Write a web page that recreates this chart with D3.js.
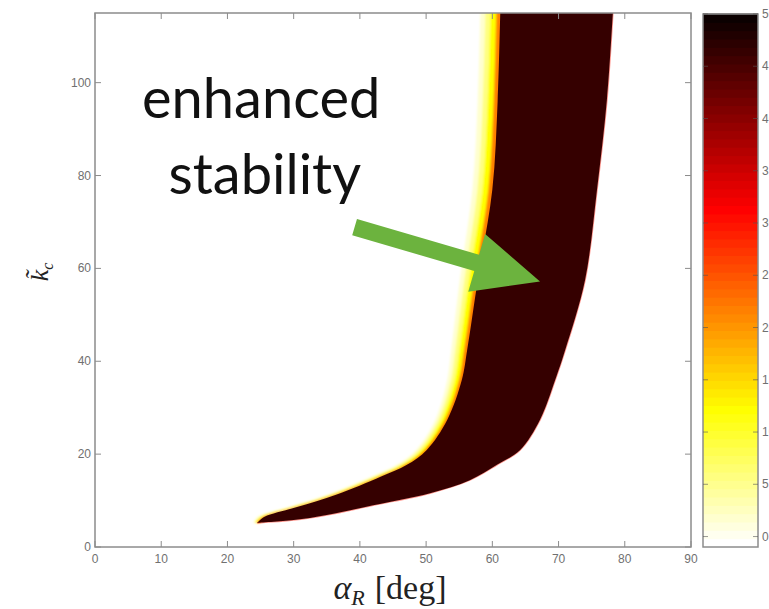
<!DOCTYPE html>
<html>
<head>
<meta charset="utf-8">
<script src="https://cdn.jsdelivr.net/npm/d3@7"></script>
<style>
  body { margin: 0; background: #fff; }
  svg text { font-family: "Liberation Sans", Arial, sans-serif; }
</style>
</head>
<body>
<svg id="chart" width="769" height="609"></svg>
<script>
// stable band
// upper/left edge, from the tip upward
const leftK     = [5.2, 6.5, 8.6, 11.3, 15.2, 17.7, 20.9, 27.4, 36, 42.4, 57.5, 77, 96, 115, 120];
const leftAlpha = [24.5, 25.6, 30.5, 36.5, 43.2, 47.1, 50.1, 53.2, 55.4, 56.2, 57.8, 60, 60.8, 61.2, 61.3];
// width (deg) of the yellow rim along the left edge
const rimWidth  = [0.6, 1.0, 1.2, 1.3, 1.4, 1.5, 1.6, 1.8, 2.2, 2.4, 2.7, 3, 3, 3, 3];
// lower/right edge, from the top downward
const rightK     = [120, 115, 96.3, 76.9, 57.5, 42.4, 36, 27.4, 20.9, 17.7, 14.4, 11.6, 9.0, 6.9, 5.8];
const rightAlpha = [78.4, 78.2, 77.3, 75.8, 74, 71, 69.5, 67.2, 64.2, 60.7, 56.6, 50.6, 42, 35, 30];

const bandValue = 46.5;
const rimValues = [2, 6, 12, 22];

const xTicks = [0, 10, 20, 30, 40, 50, 60, 70, 80, 90];
const yTicks = [0, 20, 40, 60, 80, 100];
const cTicks = [0, 5, 10, 15, 20, 25, 30, 35, 40, 45, 50];
const cDomain = [-1, 50];

// annotation, in data units (alpha, k)
const noteLines = [["enhanced", 7.1, 92.3], ["stability", 11.1, 76.0]];
const arrowFrom = [39.2, 68.9];
const arrowTo   = [67.2, 57.2];

const svg = d3.select('#chart');
const plot = { left: 95, right: 691, top: 13, bottom: 547 };
const cbar = { left: 703, right: 758, top: 14, bottom: 547 };

const x = d3.scaleLinear().domain([0, 90]).range([plot.left, plot.right]);
const y = d3.scaleLinear().domain([0, 115]).range([plot.bottom, plot.top]);
const yc = d3.scaleLinear().domain(cDomain).range([cbar.bottom, cbar.top]);

// matlab "hot", 64 levels, flipped so that low values are white
function hot(t) {
  const i = Math.min(63, Math.max(0, Math.floor(t * 64)));
  const s = i + 1;
  const r = Math.min(1, s / 24);
  const g = Math.min(1, Math.max(0, (s - 24) / 24));
  const b = Math.min(1, Math.max(0, (s - 48) / 16));
  return d3.rgb(r * 255, g * 255, b * 255).toString();
}
const color = v => hot(1 - (v - cDomain[0]) / (cDomain[1] - cDomain[0]));

const leftEdge = leftK.map((k, i) => ({ k, a: leftAlpha[i], w: rimWidth[i] }));
const rightEdge = rightK.map((k, i) => ({ k, a: rightAlpha[i] }));

const defs = svg.append('defs');
defs.append('clipPath').attr('id', 'plotClip').append('rect')
  .attr('x', plot.left).attr('y', plot.top)
  .attr('width', plot.right - plot.left).attr('height', plot.bottom - plot.top);
defs.append('filter').attr('id', 'soft')
  .attr('x', '-20%').attr('y', '-20%').attr('width', '140%').attr('height', '140%')
  .append('feGaussianBlur').attr('stdDeviation', 1.3);

const field = svg.append('g').attr('clip-path', 'url(#plotClip)');
const curve = d3.line().curve(d3.curveCatmullRom.alpha(0.5));

// rim on the left edge (white -> yellow -> orange)
const rimFrac = [1, 0.75, 0.5, 0.2];
const rim = field.append('g').attr('filter', 'url(#soft)');
rimValues.forEach((v, j) => {
  const outer = leftEdge.map(d => [x(d.a - d.w * rimFrac[j]), y(d.k)]);
  const inner = leftEdge.map(d => [x(d.a + 0.4), y(d.k)]).reverse();
  rim.append('path')
    .attr('fill', color(v))
    .attr('d', curve(outer) + 'L' + curve(inner).slice(1) + 'Z');
});

// the band itself: up the left edge, down the right edge
const bandPts = leftEdge.map(d => [x(d.a), y(d.k)])
  .concat(rightEdge.map(d => [x(d.a), y(d.k)]));
bandPts.push(bandPts[0]);

// thin fringe along the lower/right edge
field.append('path')
  .attr('fill', 'none')
  .attr('stroke', color(30))
  .attr('stroke-width', 1.6)
  .attr('opacity', 0.45)
  .attr('d', curve(rightEdge.map(d => [x(d.a), y(d.k)]).concat([[x(leftAlpha[0]), y(leftK[0])]])));

field.append('path')
  .attr('fill', color(bandValue))
  .attr('d', curve(bandPts) + 'Z');

// frame and ticks
const frameColor = '#8c8c8c';
const tickLen = 6;
svg.append('rect')
  .attr('x', plot.left).attr('y', plot.top)
  .attr('width', plot.right - plot.left).attr('height', plot.bottom - plot.top)
  .attr('fill', 'none').attr('stroke', frameColor).attr('stroke-width', 1.5);

const ticks = svg.append('g').attr('stroke', frameColor).attr('stroke-width', 1);
xTicks.forEach(t => {
  ticks.append('line').attr('x1', x(t)).attr('x2', x(t)).attr('y1', plot.bottom).attr('y2', plot.bottom - tickLen);
  ticks.append('line').attr('x1', x(t)).attr('x2', x(t)).attr('y1', plot.top).attr('y2', plot.top + tickLen);
});
yTicks.forEach(t => {
  ticks.append('line').attr('x1', plot.left).attr('x2', plot.left + tickLen).attr('y1', y(t)).attr('y2', y(t));
  ticks.append('line').attr('x1', plot.right).attr('x2', plot.right - tickLen).attr('y1', y(t)).attr('y2', y(t));
});

const labels = svg.append('g').attr('fill', '#707070').attr('font-size', 12);
labels.selectAll('.xl').data(xTicks).enter().append('text')
  .attr('x', d => x(d)).attr('y', plot.bottom + 16)
  .attr('text-anchor', 'middle').text(d => d);
labels.selectAll('.yl').data(yTicks).enter().append('text')
  .attr('x', plot.left - 4).attr('y', d => y(d) + 4)
  .attr('text-anchor', 'end').text(d => d);

// axis titles
const xt = svg.append('text')
  .attr('x', 390).attr('y', 599)
  .attr('text-anchor', 'middle')
  .style('font-family', '"Liberation Serif", "Times New Roman", serif')
  .attr('font-size', 34).attr('fill', '#222');
xt.append('tspan').attr('font-style', 'italic').text('α');
xt.append('tspan').attr('font-style', 'italic').attr('font-size', 22).attr('dy', 6).text('R');
xt.append('tspan').attr('dy', -6).attr('dx', 10).text('[deg]');

const yt = svg.append('text')
  .attr('transform', 'translate(48,272) rotate(-90)')
  .attr('text-anchor', 'middle')
  .style('font-family', '"Liberation Serif", "Times New Roman", serif')
  .attr('font-size', 26).attr('fill', '#222');
yt.append('tspan').attr('font-style', 'italic').text('k\u0303');
yt.append('tspan').attr('font-style', 'italic').attr('font-size', 16).attr('dy', 5).text('c');

// colorbar
const nBands = 64;
const step = (cDomain[1] - cDomain[0]) / nBands;
const levels = d3.range(nBands).map(i => cDomain[0] + i * step);
svg.append('g').selectAll('rect').data(levels).enter().append('rect')
  .attr('x', cbar.left).attr('width', cbar.right - cbar.left)
  .attr('y', d => yc(d + step) - 0.5)
  .attr('height', d => yc(d) - yc(d + step) + 1)
  .attr('fill', d => color(d + step / 2));
svg.append('rect')
  .attr('x', cbar.left).attr('y', cbar.top)
  .attr('width', cbar.right - cbar.left).attr('height', cbar.bottom - cbar.top)
  .attr('fill', 'none').attr('stroke', frameColor).attr('stroke-width', 1.5);
const cticks = svg.append('g').attr('stroke', '#555').attr('stroke-width', 1).attr('opacity', 0.6);
cTicks.forEach(t => {
  cticks.append('line').attr('x1', cbar.left).attr('x2', cbar.left + 5).attr('y1', yc(t)).attr('y2', yc(t));
  cticks.append('line').attr('x1', cbar.right).attr('x2', cbar.right - 5).attr('y1', yc(t)).attr('y2', yc(t));
});
labels.selectAll('.cl').data(cTicks).enter().append('text')
  .attr('x', cbar.right + 4).attr('y', d => yc(d) + 4)
  .text(d => d);

// annotation
svg.selectAll('.note').data(noteLines).enter().append('text')
  .attr('x', d => x(d[1])).attr('y', d => y(d[2]))
  .style('font-family', 'Lato, "Open Sans", sans-serif')
  .attr('font-size', 56).attr('fill', '#111')
  .text(d => d[0]);

const p0 = [x(arrowFrom[0]), y(arrowFrom[1])];
const p1 = [x(arrowTo[0]), y(arrowTo[1])];
const dx = p1[0] - p0[0], dy = p1[1] - p0[1];
const len = Math.hypot(dx, dy);
const ux = dx / len, uy = dy / len;
const headLen = 66, headHalf = 30, shaftHalf = 8.5;
const base = [p1[0] - ux * headLen, p1[1] - uy * headLen];
const nx = -uy, ny = ux;
const arrowPts = [
  [p0[0] + nx * shaftHalf, p0[1] + ny * shaftHalf],
  [base[0] + nx * shaftHalf, base[1] + ny * shaftHalf],
  [base[0] + nx * headHalf, base[1] + ny * headHalf],
  p1,
  [base[0] - nx * headHalf, base[1] - ny * headHalf],
  [base[0] - nx * shaftHalf, base[1] - ny * shaftHalf],
  [p0[0] - nx * shaftHalf, p0[1] - ny * shaftHalf]
];
svg.append('path')
  .attr('d', d3.line()(arrowPts) + 'Z')
  .attr('fill', '#6cb33e');
</script>
</body>
</html>
